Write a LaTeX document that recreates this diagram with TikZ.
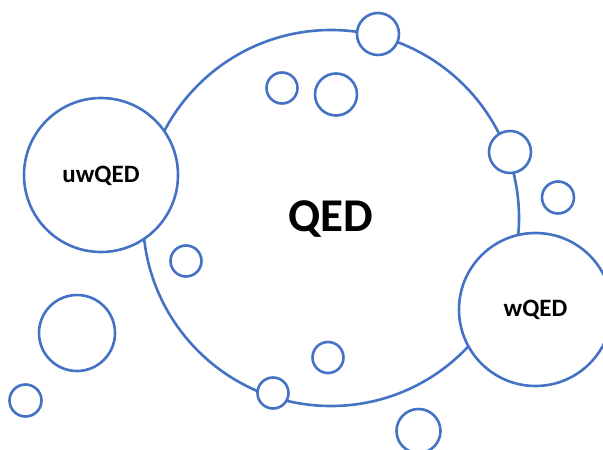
\documentclass[tikz,border=0pt]{standalone}
\usepackage{fontspec}
\setmainfont{Carlito}
\definecolor{ringblue}{HTML}{4472C4}
\begin{document}
\begin{tikzpicture}[x=1pt,y=-1pt,
  ring/.style={circle,draw=ringblue,line width=2.6pt,fill=white,inner sep=0pt,minimum size=#1},
  lbl/.style={font=\bfseries}]
\path[use as bounding box] (0,0) rectangle (603,450);
\begin{scope}
\clip (0,0) rectangle (603,450);
\node[ring=376pt] (qed) at (331,218) {};
\node[ring=154pt] (uw) at (101,175) {};
\node[ring=153pt] (w) at (535.5,309.5) {};
\node[ring=42pt] (s1) at (378,34) {};
\node[ring=31pt] (s2) at (282,88) {};
\node[ring=42pt] (s3) at (336,94.5) {};
\node[ring=42pt] (s4) at (510,152) {};
\node[ring=32pt] (s5) at (558,197.5) {};
\node[ring=31pt] (s6) at (186,261) {};
\node[ring=76pt] (s7) at (77,333) {};
\node[ring=32pt] (s8) at (25.5,400.5) {};
\node[ring=31pt] (s9) at (328,357.5) {};
\node[ring=31pt] (s10) at (273,393) {};
\node[ring=44pt] (s11) at (418.5,431) {};
\end{scope}
\node[font=\bfseries\fontsize{47}{47}\selectfont] (tq) at (331,219) {QED};
\node[font=\bfseries\fontsize{25}{25}\selectfont] (tuw) at (101,176) {uwQED};
\node[font=\bfseries\fontsize{25}{25}\selectfont] (tw) at (535.5,310) {wQED};
\end{tikzpicture}
\end{document}
